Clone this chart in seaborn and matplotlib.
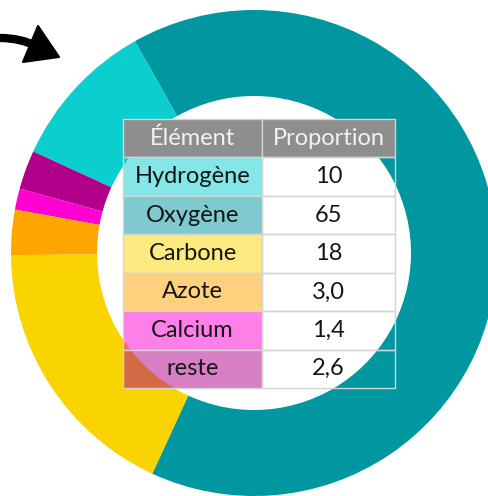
import matplotlib
matplotlib.use("Agg")
import matplotlib.pyplot as plt
import seaborn as sns
import numpy as np
from matplotlib.colors import to_rgba
from matplotlib.patches import Polygon
from matplotlib.path import Path
from matplotlib.patches import PathPatch

# ---- data (table order) ----
elements = ["Hydrogène", "Oxygène", "Carbone", "Azote", "Calcium", "reste"]
proportions = [10, 65, 18, 3.0, 1.4, 2.6]
proportion_labels = ["10", "65", "18", "3,0", "1,4", "2,6"]
colors = ["#0BCFCF", "#0097A0", "#FAD400", "#FFA500", "#FF00D2", "#B0008A"]
header = ["Élément", "Proportion"]
# order of wedges counter-clockwise in the ring
ring_order = ["Hydrogène", "reste", "Calcium", "Azote", "Carbone", "Oxygène"]

sns.set_theme(style="white")
plt.rcParams["font.family"] = ["Lato", "DejaVu Sans"]

W, H = 489, 496
fig = plt.figure(figsize=(W / 100, H / 100), dpi=100)
ax = fig.add_axes([0, 0, 1, 1])

# ---- donut ----
idx = [elements.index(e) for e in ring_order]
vals = [proportions[i] for i in idx]
cols = [colors[i] for i in idx]
cx, cy = 254, H - 253
R, r = 243, 157
ax.pie(vals, colors=cols, startangle=119.3, counterclock=True,
       center=(cx, cy), radius=R, frame=True,
       wedgeprops=dict(width=R - r, linewidth=0))
ax.set_xlim(0, W)
ax.set_ylim(0, H)
ax.set_aspect("equal")
ax.axis("off")

# ---- table ----
x0, x1, y_top, y_bot = 123, 395, 119, 388
col1 = 139
cell_text = [[e, p] for e, p in zip(elements, proportion_labels)]
tbl = ax.table(cellText=cell_text, colLabels=header,
               colWidths=[col1, (x1 - x0) - col1],
               cellLoc="center",
               bbox=[x0 / W, (H - y_bot) / H, (x1 - x0) / W, (y_bot - y_top) / H])
tbl.set_zorder(10)
tbl.auto_set_font_size(False)
for (row, col), cell in tbl.get_celld().items():
    cell.set_edgecolor("#D4D4D4")
    cell.set_linewidth(1.0)
    t = cell.get_text()
    t.set_fontsize(17)
    t.set_fontfamily(["Lato", "DejaVu Sans"])
    if row == 0:
        cell.set_facecolor("#8E8E8E")
        t.set_color("#F2F2F2")
    else:
        t.set_color("#151515")
        if col == 0:
            cell.set_facecolor(to_rgba(colors[row - 1], 0.5))
        else:
            cell.set_facecolor((1, 1, 1, 0))

# ---- arrow decoration (top-left) ----
verts = [(0, H - 38), (14, H - 38), (26, H - 41), (36, H - 46)]
path = Path(verts, [Path.MOVETO, Path.CURVE4, Path.CURVE4, Path.CURVE4])
ax.add_patch(PathPatch(path, facecolor="none", edgecolor="black", lw=6, capstyle="round"))
ax.add_patch(Polygon([(38, H - 26), (59, H - 57), (23, H - 62)], closed=True,
                     facecolor="black", edgecolor="black", lw=1.5, joinstyle="round"))

fig.savefig("out.png", dpi=100)
